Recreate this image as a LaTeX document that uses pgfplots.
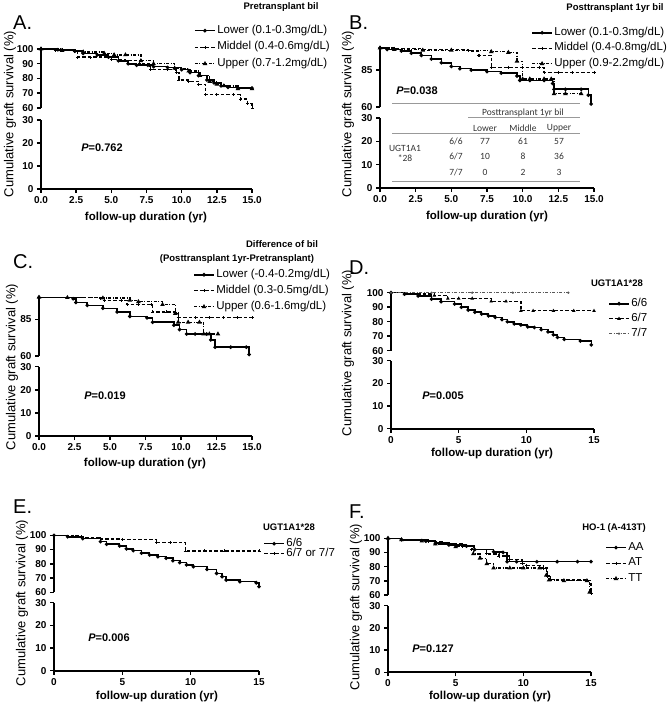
\documentclass[border=0pt]{standalone}
\usepackage{pgfplots}
\pgfplotsset{compat=1.18}
\usepackage{fontspec}
\setmainfont{Liberation Sans}
\newfontfamily\tabfont{Carlito}
\pgfplotsset{
  legend image code/.code={\draw[mark repeat=2,mark phase=2,#1] plot coordinates {(0pt,0pt) (10pt,0pt) (20pt,0pt)};},
  base/.style={scale only axis, xmin=0, xmax=15, clip=false,
    axis line style={line width=1.8pt},
    tick style={line width=1.5pt, black},
    tick align=outside, major tick length=4pt,
    tick label style={font=\fontsize{10}{11}\selectfont\bfseries},
    /pgf/number format/assume math mode=true,
    anchor=south west},
  up/.style={base, axis x line=none, axis y line*=left, ymin=60, ymax=100, ytick={60,70,80,90,100}},
  low/.style={base, axis x line*=bottom, axis y line*=left, ymin=0, ymax=30, ytick={0,10,20,30}},
  xa/.style={xtick={0,2.5,...,15}, xticklabel style={/pgf/number format/.cd, fixed, fixed zerofill, precision=1}},
  xb/.style={xtick={0,5,10,15}},
  leg/.style 2 args={legend style={at={(rel axis cs:#1)}, anchor=north west, draw=none, fill=none,
      font=\fontsize{11.5}{13}\selectfont, inner sep=0pt, row sep=#2,
      nodes={inner sep=1.5pt, text height=8pt, text depth=2.5pt}, cells={anchor=west}}},
  s1/.style={black, const plot, solid, line width=1.6pt, mark=*, mark size=0.9pt},
  s2/.style={black, const plot, dash pattern=on 3.5pt off 2pt, line width=1.3pt, mark=+, mark size=1.5pt, mark options={solid, line width=0.9pt}},
  s3/.style={black, const plot, dash pattern=on 3pt off 1.5pt on 1pt off 1.5pt, line width=1.3pt, mark=triangle*, mark size=1.4pt, mark options={solid}},
  s4/.style={black!65, const plot, dash pattern=on 3pt off 1.5pt on 1pt off 1.5pt, line width=0.8pt, mark=*, mark size=0.7pt, mark options={solid}},
}
\newcommand{\ylab}[2]{\node[rotate=90, font=\fontsize{13}{15}\selectfont] at (#1pt,-#2pt) {Cumulative graft survival (\%)};}
\newcommand{\xlab}[2]{\node[font=\fontsize{11.5}{13}\selectfont\bfseries] at (#1pt,-#2pt) {follow-up duration (yr)};}
\newcommand{\plab}[3]{\node[anchor=west, inner sep=0pt, font=\fontsize{20}{22}\selectfont] at (#1pt,-#2pt) {#3};}
\newcommand{\pval}[3]{\node[font=\fontsize{11}{13}\selectfont\bfseries] at (#1pt,-#2pt) {\textit{P}=#3};}
\newcommand{\ttl}[3]{\node[font=\fontsize{9.5}{11}\selectfont\bfseries] at (#1pt,-#2pt) {#3};}
\begin{document}
\begin{tikzpicture}
\useasboundingbox (0pt,0pt) rectangle (670pt,-708pt);

% ---------------- A ----------------
\begin{axis}[up, at={(41pt,-108pt)}, width=211pt, height=59pt, leg={0.725,1.428}{3pt}]
\addplot[s1] coordinates {(0,100)(1.2,99.5)(2.4,98.5)(3.0,97)(4.0,96)(4.8,94.5)(5.5,92)(6.2,90)(6.8,89)(7.6,89)(8.0,88)(9.0,87.5)(10.0,86)(10.6,84)(11.2,82)(11.8,79)(12.3,77)(12.8,75)(13.3,74)(14.0,73.5)(15,73.5)};
\addlegendentry{Lower (0.1-0.3mg/dL)}
\addplot[s2] coordinates {(0,100)(1.0,99)(2.4,98)(2.6,94.5)(3.5,94.5)(5.0,93)(6.0,92)(7.0,90)(7.7,89)(7.8,86)(9.0,86)(9.6,84)(9.8,79)(10.5,78)(11.2,76)(11.7,69)(12.5,69)(13.7,69)(14.2,66)(14.7,63)(15,60)};
\addlegendentry{Middel (0.4-0.6mg/dL)}
\addplot[s3] coordinates {(0,100)(1.5,99)(3.0,98)(4.5,97)(5.2,96)(6.0,96)(7.1,92)(8.0,90)(9.5,87)(10.5,85)(11.3,82)(12.0,78)(12.5,76)(13.0,75)(14.0,73)(15,73)};
\addlegendentry{Upper (0.7-1.2mg/dL)}
\end{axis}
\begin{axis}[low, xa, at={(41pt,-189pt)}, width=211pt, height=69pt]
\end{axis}
\ylab{10}{114}\xlab{146}{218}\plab{13}{23}{A.}\pval{102}{148}{0.762}\ttl{281}{7}{Pretransplant bil}

% ---------------- B ----------------
\begin{axis}[up, ytick={60,85}, at={(380pt,-107pt)}, width=214pt, height=59pt, leg={0.706,1.377}{2pt}]
\addplot[s1] coordinates {(0,100)(0.5,99)(1.5,98)(2.2,96.5)(2.9,95)(3.6,92.5)(4.3,90)(5.0,87.5)(5.6,86)(6.4,85)(7.5,84)(8.5,83)(9.6,81)(9.8,78)(10.5,78)(11.5,78)(12.1,76)(12.2,72)(13,72)(14.1,72)(14.6,68)(14.8,62)};
\addlegendentry{Lower (0.1-0.3mg/dL)}
\addplot[s2] coordinates {(0,100)(1.0,99.5)(3.0,99)(5.0,99)(6.2,98)(6.9,95)(7.0,95)(7.8,87)(9.0,87)(10.0,87)(11.2,87)(11.5,83.5)(12.5,83.5)(13.5,83.5)(15,83.5)};
\addlegendentry{Middel (0.4-0.8mg/dL)}
\addplot[s3] coordinates {(0,100)(1.0,99)(3.0,98.5)(5.0,98.5)(7.8,97.5)(9.0,97)(9.6,91)(10.0,79)(10.5,79)(11.5,79)(12.0,79)(12.2,69)(13.0,69)(14.1,69)};
\addlegendentry{Upper (0.9-2.2mg/dL)}
\end{axis}
\begin{axis}[low, xa, at={(380pt,-188pt)}, width=214pt, height=70pt]
\end{axis}
\ylab{348}{114}\xlab{487}{217}\plab{349}{23}{B.}\pval{417}{91}{0.038}\ttl{615}{8}{Posttransplant 1yr bil}
\begin{scope}[gray!80, line width=1pt]
\draw (392pt,-104pt) -- (580pt,-104pt);
\draw (468pt,-118pt) -- (580pt,-118pt);
\draw (392pt,-134pt) -- (580pt,-134pt);
\draw (392pt,-182pt) -- (580pt,-182pt);
\end{scope}
\begin{scope}[every node/.style={font=\tabfont\fontsize{9.5}{11}\selectfont, text=black!80, inner sep=0pt}]
\node at (523pt,-113pt) {Posttransplant 1yr bil};
\node at (485pt,-128pt) {Lower};\node at (523pt,-128pt) {Middle};\node at (559pt,-128pt) {Upper};
\node at (405pt,-148pt) {UGT1A1};\node at (405pt,-158pt) {*28};
\node at (456pt,-141pt) {6/6};\node at (485pt,-141pt) {77};\node at (523pt,-141pt) {61};\node at (559pt,-141pt) {57};
\node at (456pt,-156pt) {6/7};\node at (485pt,-156pt) {10};\node at (523pt,-156pt) {8};\node at (559pt,-156pt) {36};
\node at (456pt,-172pt) {7/7};\node at (485pt,-172pt) {0};\node at (523pt,-172pt) {2};\node at (559pt,-172pt) {3};
\end{scope}

% ---------------- C ----------------
\begin{axis}[up, ytick={60,85}, at={(39pt,-356pt)}, width=213pt, height=58.7pt, leg={0.723,1.503}{2.5pt}]
\addplot[s1] coordinates {(0,100)(2.4,99)(2.6,96.5)(3.4,94.5)(4.5,92.5)(5.5,90)(6.4,87)(7.6,86)(8.0,83)(9.5,81)(9.9,78)(10.4,75)(11.0,75)(11.8,75)(12.1,71)(12.4,66)(13.5,66)(14.6,66)(14.8,61)};
\addlegendentry{Lower (-0.4-0.2mg/dL)}
\addplot[s2] coordinates {(0,100)(2.0,99.8)(4.3,99.5)(4.6,98)(5.8,98)(6.2,95)(7.0,95)(7.9,95)(8.0,90)(9.0,90)(9.6,90)(9.8,86)(11,86)(12,86)(13,86)(14,86)(15,86)};
\addlegendentry{Middel (0.3-0.5mg/dL)}
\addplot[s3] coordinates {(0,100)(2.0,99.8)(4.5,99.5)(6.4,98)(7.0,97)(8.7,95)(9.6,89)(9.8,83)(10.5,83)(11.3,83)(11.6,75)(12.0,75)(12.6,75)};
\addlegendentry{Upper (0.6-1.6mg/dL)}
\end{axis}
\begin{axis}[low, xa, at={(39pt,-436pt)}, width=213pt, height=69.3pt]
\end{axis}
\ylab{12}{367}\xlab{145}{464}\plab{13}{262}{C.}\pval{105}{396}{0.019}
\ttl{282}{244}{Difference of bil}\ttl{237}{259}{(Posttransplant 1yr-Pretransplant)}

% ---------------- D ----------------
\begin{axis}[up, at={(391pt,-350.7pt)}, width=203pt, height=58pt, leg={1.069,0.930}{1.5pt}]
\addplot[s1] coordinates {(0,100)(1,99)(2,97.7)(3,95.6)(3.7,93.8)(4.7,92.2)(5.2,90)(5.7,88)(6.2,86.5)(6.7,85.3)(7.2,84)(7.7,83)(8.2,81.5)(8.6,80)(9.1,78.5)(9.6,77.7)(10.1,76.5)(10.6,76)(11.1,74.5)(11.6,73)(12.0,71)(12.3,69.2)(12.8,67.8)(14,66.7)(14.8,64)};
\addlegendentry{6/6}
\addplot[s2, mark=triangle*, mark size=1.2pt] coordinates {(0,100)(1,99)(3.2,98)(4.2,96)(5,96)(6,96)(7.4,94)(8.5,94)(9.6,87.5)(10.5,87.5)(12,87.5)(13.5,87.5)(15,87.5)};
\addlegendentry{6/7}
\addplot[s4] coordinates {(0,100)(3,100)(6,100)(9,100)(13.1,100)};
\addlegendentry{7/7}
\end{axis}
\begin{axis}[low, xb, at={(391pt,-428.7pt)}, width=203pt, height=68pt]
\end{axis}
\ylab{348}{353}\xlab{492}{454}\plab{349}{268}{D.}\pval{443}{396}{0.005}\ttl{617}{283}{UGT1A1*28}

% ---------------- E ----------------
\begin{axis}[up, at={(54pt,-592.3pt)}, width=205pt, height=57pt, leg={1.02,0.975}{-3.5pt}]
\addplot[s1] coordinates {(0,100)(1,99)(2.1,97.7)(3.4,95.6)(3.85,93.7)(4.8,92.5)(5.3,90.5)(5.8,89.2)(6.4,87.5)(7,86.2)(7.6,85)(8.2,83.9)(8.7,82.2)(9.2,80.8)(9.7,79.3)(10.2,78)(11.2,76.1)(11.9,73.3)(12.3,71)(12.6,68.6)(13.6,67.5)(14.8,66.7)(15,64)};
\addlegendentry{6/6}
\addplot[s2] coordinates {(0,100)(1.4,99.5)(2,98.6)(3.4,97.5)(5,97.2)(7.5,95)(8.5,95)(9.6,89)(11,89)(12.5,89)(15,89)};
\addlegendentry{6/7 or 7/7}
\end{axis}
\begin{axis}[low, xb, at={(54pt,-670.7pt)}, width=205pt, height=68pt]
\end{axis}
\ylab{22}{603}\xlab{157}{697}\plab{13}{507}{E.}\pval{109}{638}{0.006}\ttl{289}{527}{UGT1A1*28}

% ---------------- F ----------------
\begin{axis}[up, at={(388pt,-595pt)}, width=203pt, height=56.7pt, leg={1.069,0.957}{2pt}]
\addplot[s1] coordinates {(0,100)(1,99)(2.8,98)(3.5,96.5)(4.5,95.3)(5.8,94.5)(6.4,92)(7.8,90.5)(8.5,90)(8.8,83.5)(9.5,83.5)(11,83.5)(12.5,83.5)(14,83.5)(15,83.5)};
\addlegendentry{AA}
\addplot[s2] coordinates {(0,100)(1,99)(3,97.5)(4,96)(5.5,94.5)(6.2,92)(7.3,89)(8.2,87.5)(9,85)(9.9,82)(10.2,81)(11.5,79)(11.8,73)(12.0,71)(13,70.5)(14.7,70)(15,61)};
\addlegendentry{AT}
\addplot[s3] coordinates {(0,100)(1,99)(2.5,98)(3.5,96)(5,94)(6.3,89)(6.8,86)(7.3,82)(7.8,79)(9,79)(10,79)(11.2,79)(11.7,74)(11.9,70.5)(13,70)(14.7,70)(14.9,62)};
\addlegendentry{TT}
\end{axis}
\begin{axis}[low, xb, at={(388pt,-672.3pt)}, width=203pt, height=66.6pt]
\end{axis}
\ylab{356}{607}\xlab{490}{697}\plab{349}{512}{F.}\pval{433}{649}{0.127}\ttl{614}{528}{HO-1 (A-413T)}
\end{tikzpicture}
\end{document}
